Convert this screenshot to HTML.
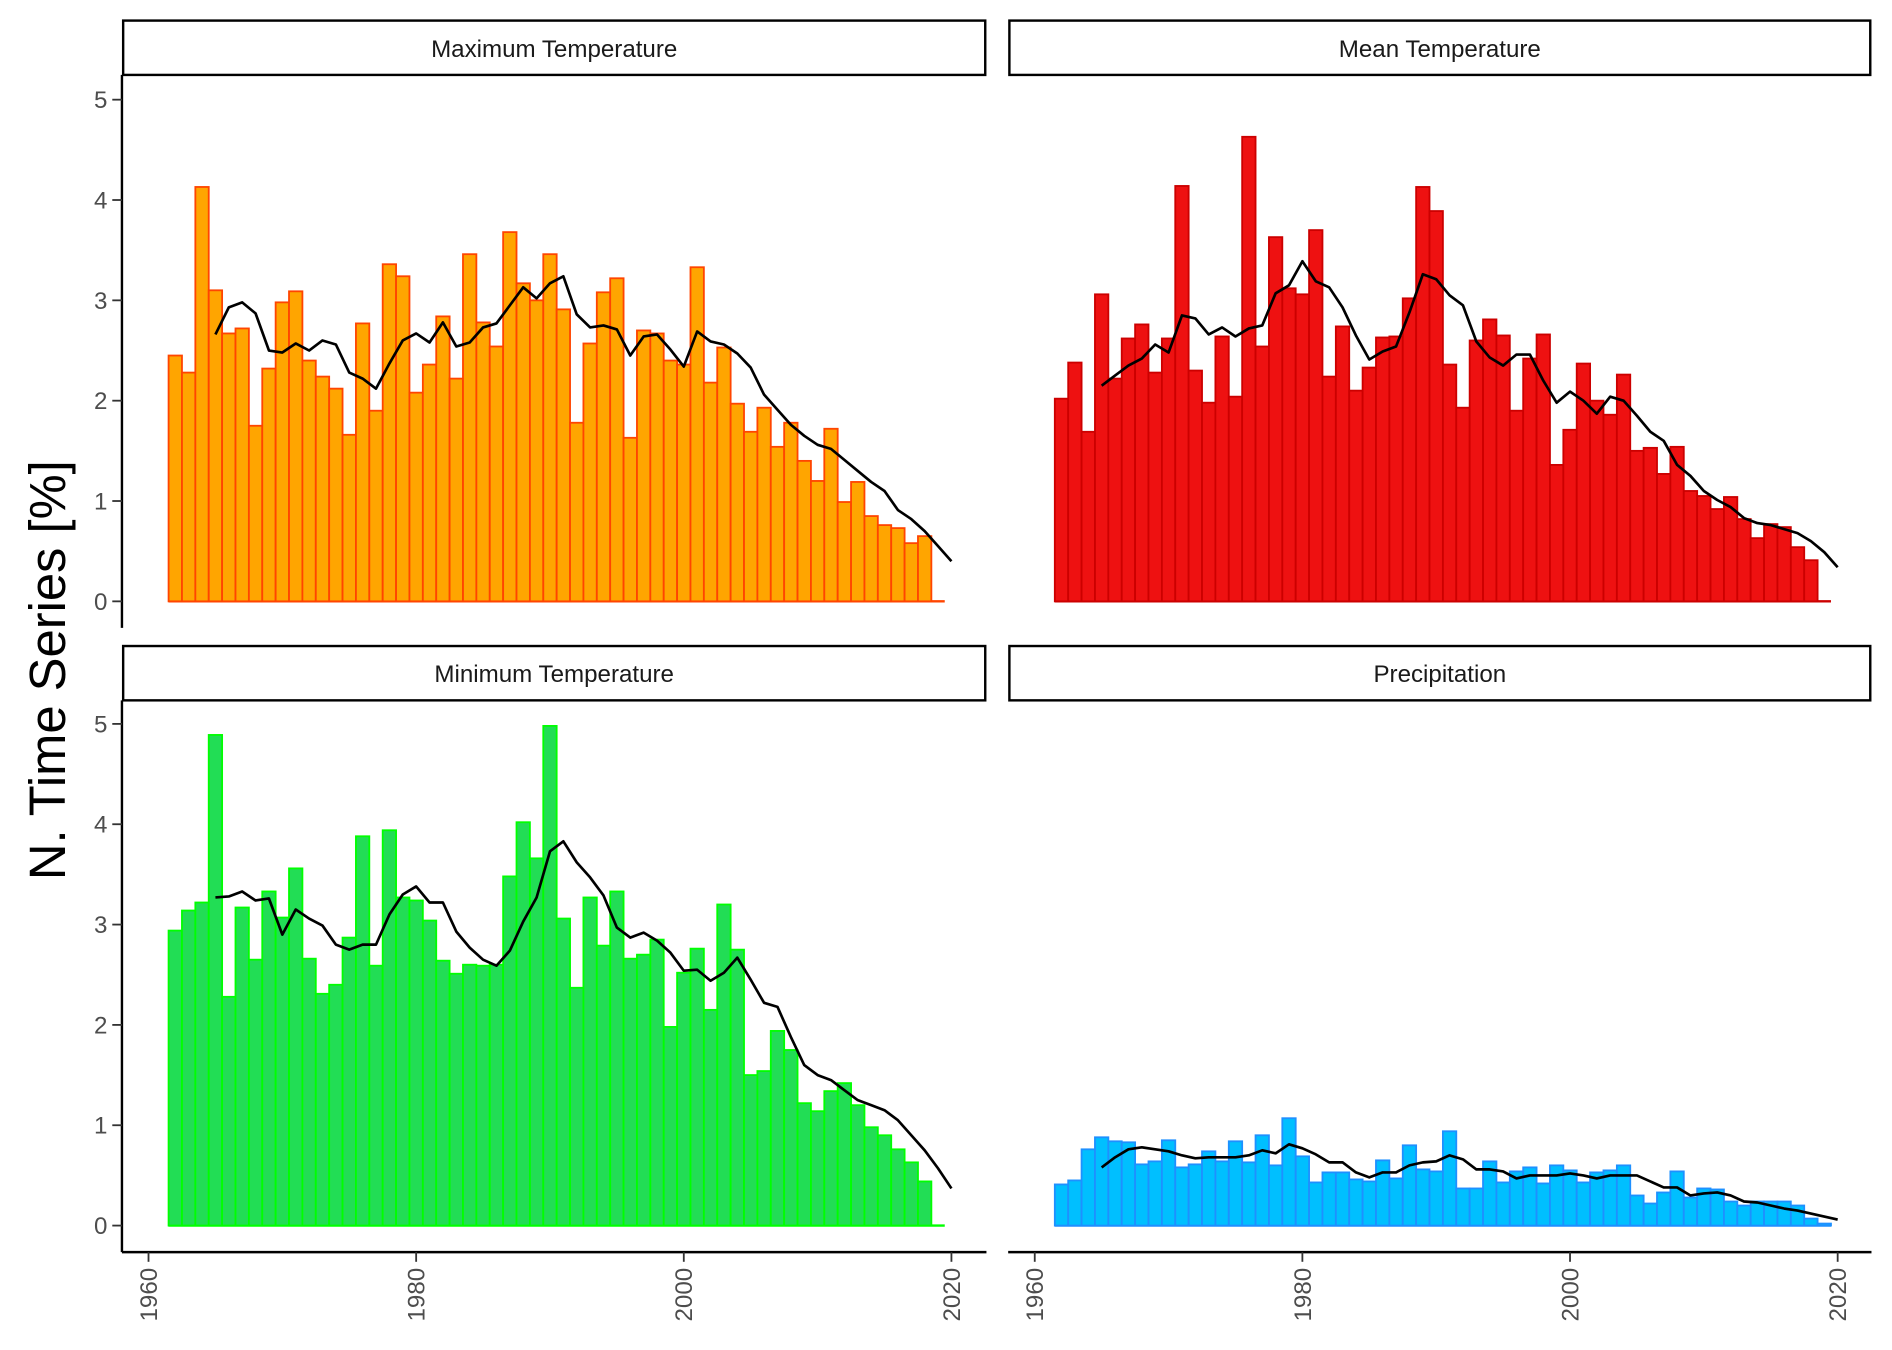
<!DOCTYPE html>
<html><head><meta charset="utf-8"><style>
html,body{margin:0;padding:0;background:#fff;}
svg{display:block;font-family:"Liberation Sans",sans-serif;}
</style></head><body>
<svg id="chart" width="1892" height="1350" viewBox="0 0 1567 1118" xmlns="http://www.w3.org/2000/svg">
<text x="0" y="0" transform="translate(54,555) rotate(-90)" text-anchor="middle" font-size="42" fill="#000">N. Time Series [%]</text>
</svg>
<script>
const barYears = Array.from({length:58},(_, i)=>1962+i);
const lineYears = Array.from({length:56},(_, i)=>1965+i);
const yTicks = [0,1,2,3,4,5];
const xTicks = [1960,1980,2000,2020];
const panelTitles = ["Maximum Temperature","Mean Temperature","Minimum Temperature","Precipitation"];
const maxBars = [2.45,2.28,4.13,3.1,2.67,2.72,1.75,2.32,2.98,3.09,2.4,2.24,2.12,1.66,2.77,1.9,3.36,3.24,2.08,2.36,2.84,2.22,3.46,2.78,2.54,3.68,3.17,3.0,3.46,2.91,1.78,2.57,3.08,3.22,1.63,2.7,2.67,2.4,2.36,3.33,2.18,2.53,1.97,1.69,1.93,1.54,1.78,1.4,1.2,1.72,0.99,1.19,0.85,0.76,0.73,0.58,0.65,0.0];
const maxLine = [2.66,2.93,2.98,2.87,2.5,2.48,2.57,2.5,2.6,2.56,2.28,2.22,2.12,2.37,2.6,2.67,2.58,2.78,2.54,2.58,2.73,2.77,2.95,3.13,3.02,3.17,3.24,2.86,2.73,2.75,2.71,2.45,2.64,2.66,2.51,2.34,2.69,2.59,2.56,2.47,2.33,2.06,1.91,1.76,1.65,1.56,1.52,1.41,1.3,1.19,1.1,0.91,0.82,0.7,0.55,0.4];
const meanBars = [2.02,2.38,1.69,3.06,2.22,2.62,2.76,2.28,2.62,4.14,2.3,1.98,2.64,2.04,4.63,2.54,3.63,3.12,3.06,3.7,2.24,2.74,2.1,2.33,2.63,2.64,3.02,4.13,3.89,2.36,1.93,2.6,2.81,2.65,1.9,2.42,2.66,1.36,1.71,2.37,2.0,1.86,2.26,1.5,1.53,1.27,1.54,1.1,1.05,0.92,1.04,0.82,0.63,0.77,0.74,0.54,0.41,0.0];
const meanLine = [2.15,2.25,2.35,2.42,2.56,2.48,2.85,2.82,2.66,2.73,2.64,2.72,2.75,3.07,3.15,3.39,3.19,3.13,2.93,2.65,2.41,2.49,2.54,2.88,3.26,3.21,3.05,2.95,2.59,2.43,2.35,2.46,2.46,2.2,1.98,2.09,2.0,1.87,2.04,2.0,1.85,1.69,1.6,1.36,1.25,1.1,1.01,0.94,0.83,0.78,0.76,0.72,0.68,0.6,0.49,0.34];
const minBars = [2.94,3.14,3.22,4.89,2.28,3.17,2.65,3.33,3.07,3.56,2.66,2.31,2.4,2.87,3.88,2.59,3.94,3.27,3.24,3.04,2.64,2.51,2.6,2.59,2.6,3.48,4.02,3.66,4.98,3.06,2.37,3.27,2.79,3.33,2.66,2.7,2.85,1.98,2.52,2.76,2.15,3.2,2.75,1.5,1.54,1.94,1.75,1.22,1.14,1.34,1.42,1.2,0.98,0.9,0.76,0.63,0.44,0.0];
const minLine = [3.27,3.28,3.33,3.24,3.26,2.9,3.15,3.06,2.99,2.8,2.75,2.8,2.8,3.1,3.3,3.38,3.22,3.22,2.93,2.77,2.65,2.59,2.74,3.03,3.27,3.73,3.83,3.62,3.47,3.29,2.97,2.87,2.92,2.84,2.72,2.54,2.55,2.44,2.52,2.67,2.45,2.22,2.18,1.88,1.6,1.5,1.45,1.35,1.25,1.2,1.15,1.05,0.9,0.75,0.57,0.37];
const precBars = [0.41,0.45,0.76,0.88,0.84,0.83,0.61,0.64,0.85,0.58,0.61,0.74,0.64,0.84,0.63,0.9,0.6,1.07,0.69,0.43,0.53,0.53,0.46,0.44,0.65,0.47,0.8,0.56,0.54,0.94,0.37,0.37,0.64,0.43,0.54,0.58,0.42,0.6,0.55,0.43,0.53,0.55,0.6,0.3,0.22,0.33,0.54,0.28,0.37,0.36,0.24,0.2,0.24,0.24,0.24,0.2,0.07,0.02];
const precLine = [0.58,0.68,0.76,0.78,0.76,0.74,0.7,0.67,0.68,0.68,0.68,0.7,0.75,0.72,0.81,0.77,0.71,0.63,0.63,0.53,0.48,0.53,0.53,0.6,0.63,0.64,0.7,0.66,0.56,0.56,0.54,0.47,0.5,0.5,0.5,0.52,0.5,0.47,0.5,0.5,0.5,0.44,0.38,0.38,0.3,0.32,0.33,0.3,0.24,0.23,0.2,0.17,0.15,0.12,0.09,0.06];

const NS="http://www.w3.org/2000/svg";
const svg=document.getElementById('chart');
function mk(tag,attrs,parent){const e=document.createElementNS(NS,tag);for(const k in attrs)e.setAttribute(k,attrs[k]);(parent||svg).appendChild(e);return e;}

const panels=[
 {title:panelTitles[0],bars:maxBars,line:maxLine,fill:"#FFA500",stroke:"#FF4500",x0:101,x1:817,stripY:17,y0:498,yAx:true,xAx:false,name:"max-temp"},
 {title:panelTitles[1],bars:meanBars,line:meanLine,fill:"#EE1111",stroke:"#CC0000",x0:835,x1:1550,stripY:17,y0:498,yAx:false,xAx:false,name:"mean-temp"},
 {title:panelTitles[2],bars:minBars,line:minLine,fill:"#22DD55",stroke:"#00FF00",x0:101,x1:817,stripY:535,y0:1015,yAx:true,xAx:true,name:"min-temp"},
 {title:panelTitles[3],bars:precBars,line:precLine,fill:"#00BFFF",stroke:"#1E90FF",x0:835,x1:1550,stripY:535,y0:1015,yAx:false,xAx:true,name:"precipitation"}
];
const pxPerYear=(788-123)/60, pxPerUnit=83.1;
panels.forEach(p=>{
  const g=mk('g',{});
  
  
  const xs=y=>p.x0+22+(y-1960)*pxPerYear;
  const ys=v=>p.y0-v*pxPerUnit;
  const strip=mk('rect',{x:p.x0+1,y:p.stripY,width:p.x1-p.x0-2,height:45,fill:"#fff",stroke:"#000","stroke-width":2},g);
  
  
  const st=mk('text',{x:(p.x0+p.x1)/2,y:p.stripY+30,"text-anchor":"middle","font-size":20,fill:"#1a1a1a"},g);
  st.textContent=p.title;
  
  
  const bl=mk('line',{x1:xs(barYears[0]-0.5),x2:xs(barYears[barYears.length-1]+0.5),y1:ys(0),y2:ys(0),stroke:p.stroke,"stroke-width":2},g);
  
  
  p.bars.forEach((v,i)=>{
    const yr=barYears[i];
    const r=mk('rect',{x:xs(yr-0.5),y:ys(v),width:pxPerYear,height:Math.max(0,ys(0)-ys(v)),fill:p.fill,stroke:p.stroke,"stroke-width":1.5},g);
    
    
  });
  const pts=p.line.map((v,i)=>xs(lineYears[i]).toFixed(2)+','+ys(v).toFixed(2)).join(' ');
  const pl=mk('polyline',{points:pts,fill:"none",stroke:"#000","stroke-width":2.2,"stroke-linejoin":"round"},g);
  
  
  if(p.yAx){
    const ax=mk('line',{x1:p.x0,x2:p.x0,y1:p.stripY+45,y2:p.y0+22,stroke:"#000","stroke-width":2},g);
    
    
    yTicks.forEach(t=>{
      mk('line',{x1:p.x0-8,x2:p.x0,y1:ys(t),y2:ys(t),stroke:"#333","stroke-width":1.5},g);
      const tl=mk('text',{x:p.x0-12,y:ys(t)+7,"text-anchor":"end","font-size":20,fill:"#4d4d4d"},g);
      tl.textContent=t;
      
      
    });
  }
  if(p.xAx){
    const ay=p.y0+22;
    const ax=mk('line',{x1:p.x0,x2:p.x1,y1:ay,y2:ay,stroke:"#000","stroke-width":2},g);
    
    
    xTicks.forEach(t=>{
      mk('line',{x1:xs(t),x2:xs(t),y1:ay,y2:ay+8,stroke:"#333","stroke-width":1.5},g);
      const tl=mk('text',{x:0,y:0,transform:`translate(${xs(t)+7},${ay+13}) rotate(-90)`,"text-anchor":"end","font-size":20,fill:"#4d4d4d"},g);
      tl.textContent=t;
      
      
    });
  }
});
</script>
</body></html>
